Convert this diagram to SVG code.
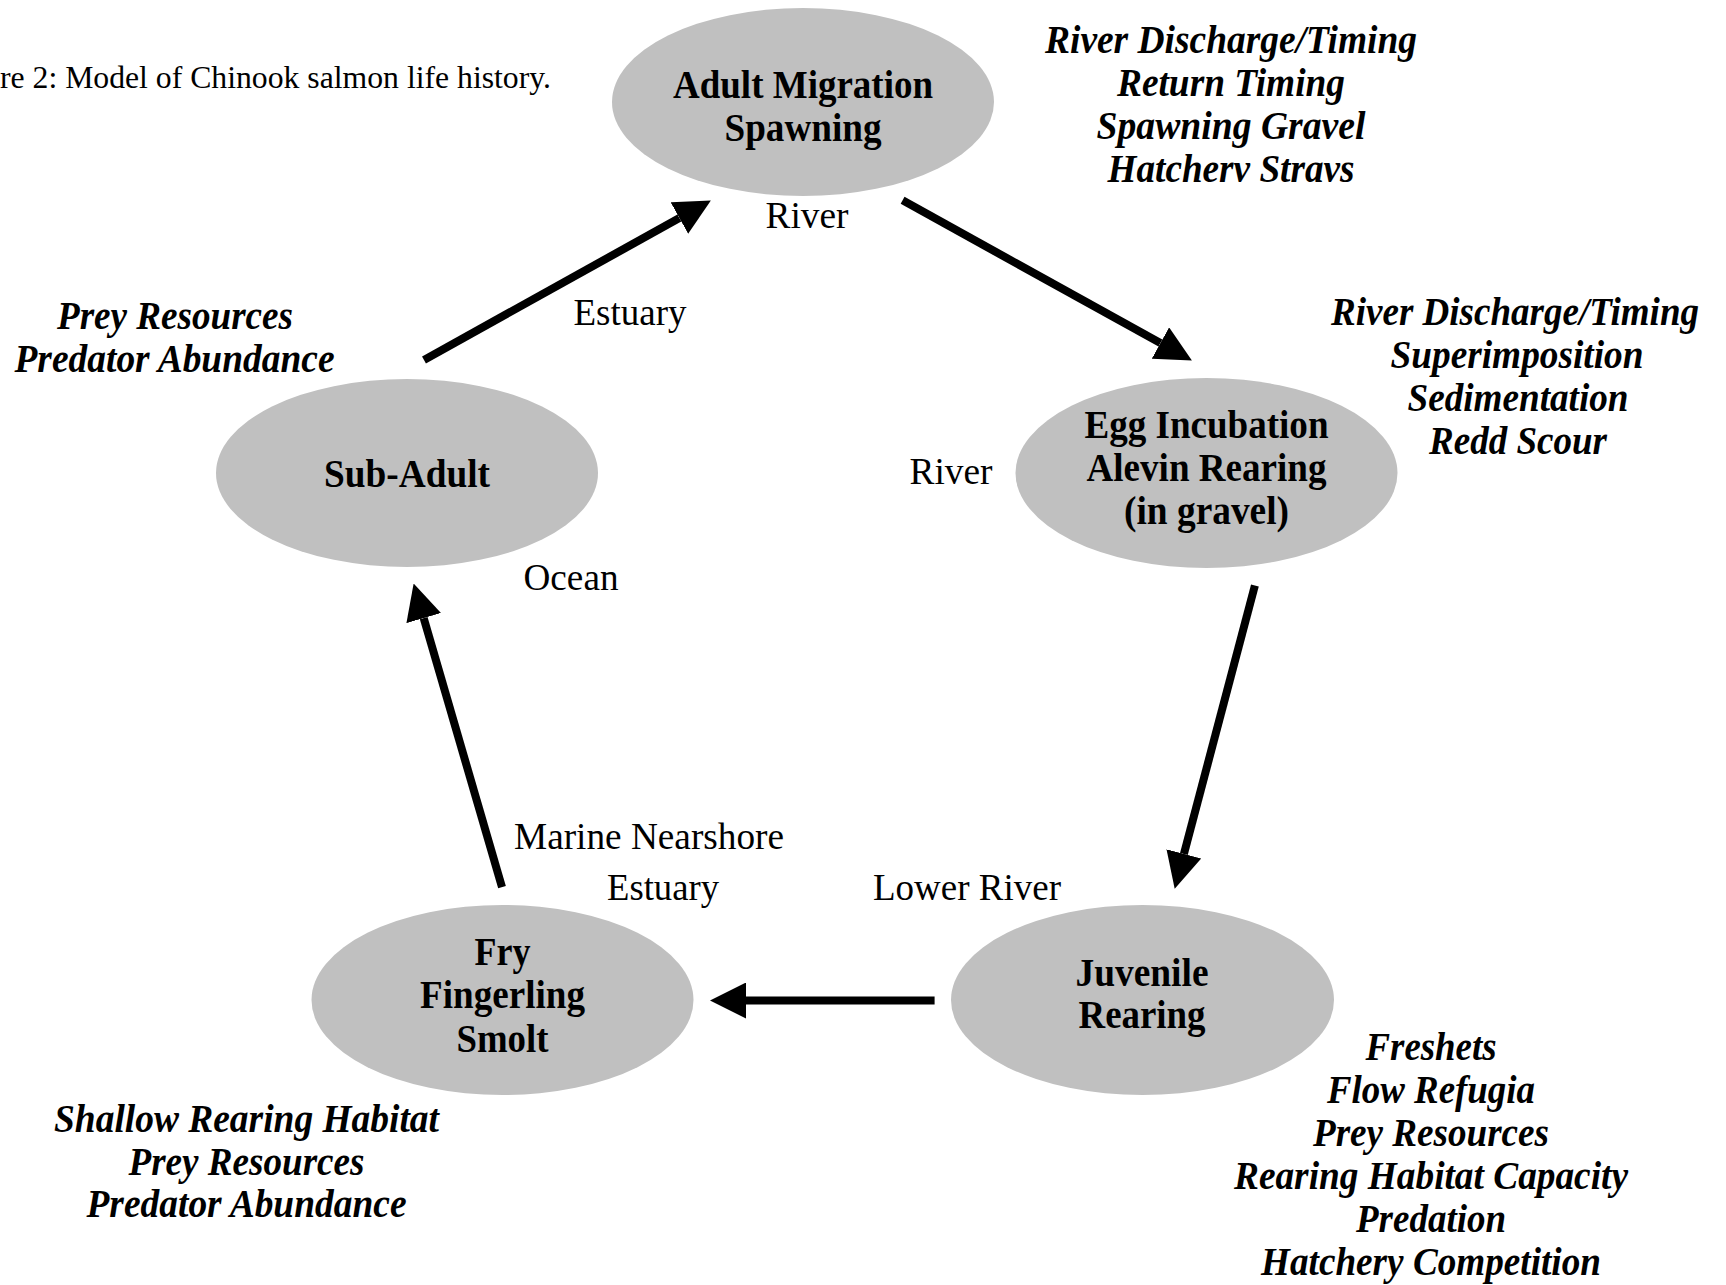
<svg xmlns="http://www.w3.org/2000/svg" width="1726" height="1285" viewBox="0 0 1726 1285" font-family="'Liberation Serif', 'Times New Roman', serif">
<style>
text{fill:#000}
.t{font-size:32px}
.lbl{font-size:38px;text-anchor:middle}
.node{font-size:40px;font-weight:bold;text-anchor:middle}
.fac{font-size:40px;font-weight:bold;font-style:italic;text-anchor:middle}
ellipse{fill:#c0c0c0;stroke:none}
.arr{stroke:#000;stroke-width:8;fill:none;stroke-linecap:butt;marker-end:url(#ah)}
</style>
<defs>
<marker id="ah" markerUnits="userSpaceOnUse" markerWidth="36" markerHeight="36" viewBox="0 0 35 35" refX="0" refY="17.5" orient="auto">
<path d="M0,0 L35,17.5 L0,35 z" fill="#000"/>
</marker>
</defs>
<rect width="1726" height="1285" fill="#fff"/>
<text class="t" x="0" y="88" textLength="551" lengthAdjust="spacingAndGlyphs">re 2: Model of Chinook salmon life history.</text>

<g id="connectors">
<line class="arr" x1="424" y1="360" x2="679.4" y2="218"/>
<line class="arr" x1="902.6" y1="200.3" x2="1160.4" y2="343.1"/>
<line class="arr" x1="1254.9" y1="585.6" x2="1183.9" y2="853.9"/>
<line class="arr" x1="934.6" y1="1000.5" x2="746" y2="1000.5"/>
<line class="arr" x1="502" y1="887.2" x2="423.7" y2="618.1"/>
</g>

<g id="node-adult">
<ellipse cx="803" cy="102" rx="191" ry="94"/>
<text class="node" x="803" y="98" textLength="260" lengthAdjust="spacingAndGlyphs">Adult Migration</text>
<text class="node" x="803" y="141" textLength="157" lengthAdjust="spacingAndGlyphs">Spawning</text>
</g>
<g id="node-egg">
<ellipse cx="1206.5" cy="473" rx="191" ry="95"/>
<text class="node" x="1206.5" y="438" textLength="244" lengthAdjust="spacingAndGlyphs">Egg Incubation</text>
<text class="node" x="1206.5" y="481" textLength="240" lengthAdjust="spacingAndGlyphs">Alevin Rearing</text>
<text class="node" x="1206.5" y="524" textLength="165" lengthAdjust="spacingAndGlyphs">(in gravel)</text>
</g>
<g id="node-subadult">
<ellipse cx="407" cy="473" rx="191" ry="94"/>
<text class="node" x="407" y="487" textLength="166" lengthAdjust="spacingAndGlyphs">Sub-Adult</text>
</g>
<g id="node-fry">
<ellipse cx="502.5" cy="1000" rx="191" ry="95"/>
<text class="node" x="502.5" y="965" textLength="56" lengthAdjust="spacingAndGlyphs">Fry</text>
<text class="node" x="502.5" y="1008" textLength="165" lengthAdjust="spacingAndGlyphs">Fingerling</text>
<text class="node" x="502.5" y="1052" textLength="92" lengthAdjust="spacingAndGlyphs">Smolt</text>
</g>
<g id="node-juvenile">
<ellipse cx="1142.5" cy="1000" rx="191.5" ry="95"/>
<text class="node" x="1142" y="986" textLength="133" lengthAdjust="spacingAndGlyphs">Juvenile</text>
<text class="node" x="1142" y="1028" textLength="127" lengthAdjust="spacingAndGlyphs">Rearing</text>
</g>

<g id="habitat-labels">
<text class="lbl" x="807" y="228" textLength="83" lengthAdjust="spacingAndGlyphs">River</text>
<text class="lbl" x="630" y="325" textLength="113" lengthAdjust="spacingAndGlyphs">Estuary</text>
<text class="lbl" x="951" y="484" textLength="83" lengthAdjust="spacingAndGlyphs">River</text>
<text class="lbl" x="571" y="590" textLength="95" lengthAdjust="spacingAndGlyphs">Ocean</text>
<text class="lbl" x="649" y="849" textLength="270" lengthAdjust="spacingAndGlyphs">Marine Nearshore</text>
<text class="lbl" x="663" y="900" textLength="112" lengthAdjust="spacingAndGlyphs">Estuary</text>
<text class="lbl" x="967" y="900" textLength="188" lengthAdjust="spacingAndGlyphs">Lower River</text>
</g>

<g id="factors-adult">
<text class="fac" x="1231" y="53" textLength="372" lengthAdjust="spacingAndGlyphs">River Discharge/Timing</text>
<text class="fac" x="1231" y="96" textLength="228" lengthAdjust="spacingAndGlyphs">Return Timing</text>
<text class="fac" x="1231" y="139" textLength="269" lengthAdjust="spacingAndGlyphs">Spawning Gravel</text>
<text class="fac" x="1231" y="182" textLength="247" lengthAdjust="spacingAndGlyphs">Hatcherv Stravs</text>
</g>
<g id="factors-egg">
<text class="fac" x="1515" y="325" textLength="368" lengthAdjust="spacingAndGlyphs">River Discharge/Timing</text>
<text class="fac" x="1517" y="368" textLength="253" lengthAdjust="spacingAndGlyphs">Superimposition</text>
<text class="fac" x="1518" y="411" textLength="221" lengthAdjust="spacingAndGlyphs">Sedimentation</text>
<text class="fac" x="1518" y="454" textLength="178" lengthAdjust="spacingAndGlyphs">Redd Scour</text>
</g>
<g id="factors-subadult">
<text class="fac" x="175" y="329" textLength="236" lengthAdjust="spacingAndGlyphs">Prey Resources</text>
<text class="fac" x="174.5" y="372" textLength="320" lengthAdjust="spacingAndGlyphs">Predator Abundance</text>
</g>
<g id="factors-fry">
<text class="fac" x="246.5" y="1132" textLength="385" lengthAdjust="spacingAndGlyphs">Shallow Rearing Habitat</text>
<text class="fac" x="246.5" y="1175" textLength="236" lengthAdjust="spacingAndGlyphs">Prey Resources</text>
<text class="fac" x="246.5" y="1217" textLength="320" lengthAdjust="spacingAndGlyphs">Predator Abundance</text>
</g>
<g id="factors-juvenile">
<text class="fac" x="1431" y="1060" textLength="131" lengthAdjust="spacingAndGlyphs">Freshets</text>
<text class="fac" x="1431" y="1103" textLength="208" lengthAdjust="spacingAndGlyphs">Flow Refugia</text>
<text class="fac" x="1431" y="1146" textLength="236" lengthAdjust="spacingAndGlyphs">Prey Resources</text>
<text class="fac" x="1431" y="1189" textLength="394" lengthAdjust="spacingAndGlyphs">Rearing Habitat Capacity</text>
<text class="fac" x="1431" y="1232" textLength="150" lengthAdjust="spacingAndGlyphs">Predation</text>
<text class="fac" x="1431" y="1275" textLength="340" lengthAdjust="spacingAndGlyphs">Hatchery Competition</text>
</g>
</svg>
